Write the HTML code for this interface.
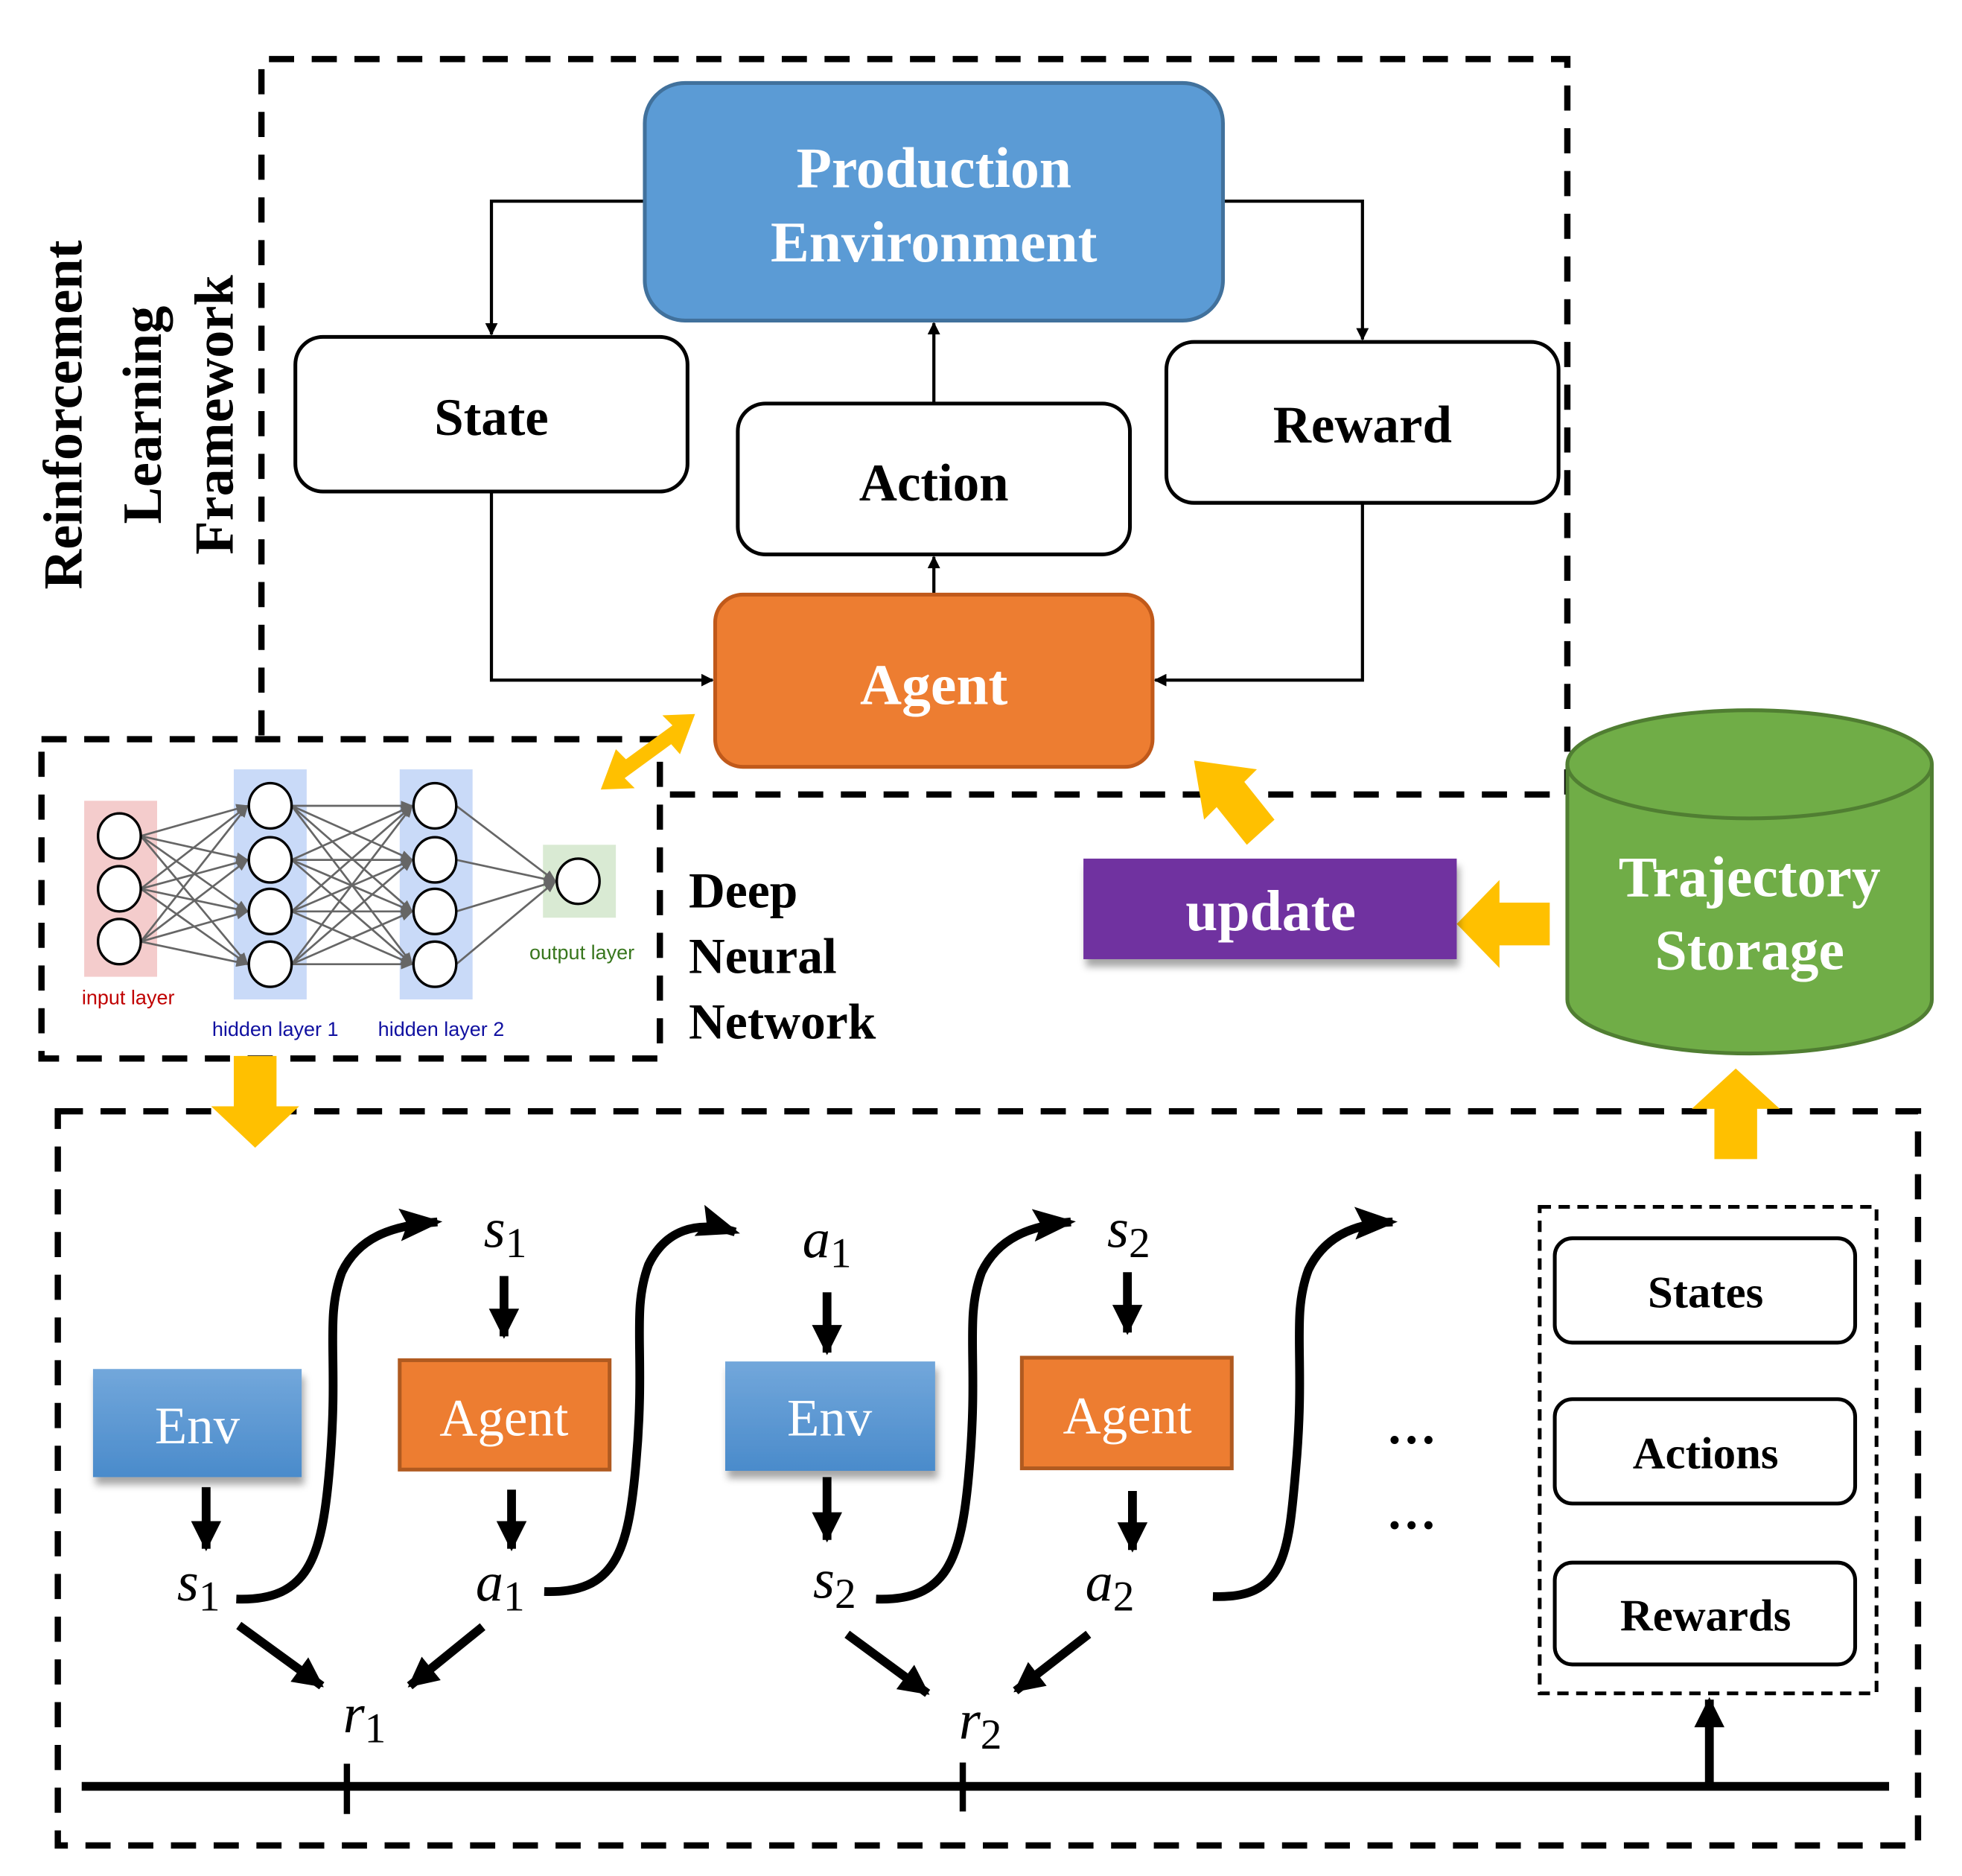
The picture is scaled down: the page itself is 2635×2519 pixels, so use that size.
<!DOCTYPE html>
<html><head><meta charset="utf-8"><style>html,body{margin:0;padding:0;background:#fff}svg{display:block}</style></head>
<body>
<svg width="2635" height="2519" viewBox="0 0 1561 1492.3" preserveAspectRatio="none" xmlns="http://www.w3.org/2000/svg" font-family="Liberation Serif, serif">
<defs>
<marker id="thin" markerWidth="10" markerHeight="10" refX="9" refY="5" orient="auto" markerUnits="userSpaceOnUse" viewBox="0 0 10 10"><path d="M0,0 L10,5 L0,10 z" fill="#000"/></marker>
<marker id="big" markerWidth="34" markerHeight="26" refX="30" refY="13" orient="auto" markerUnits="userSpaceOnUse" viewBox="0 0 34 26"><path d="M0,0 L34,13 L0,26 L6,13 z" fill="#000"/></marker>
<marker id="dn" markerWidth="24" markerHeight="26" refX="22" refY="12" orient="auto" markerUnits="userSpaceOnUse" viewBox="0 0 24 24"><path d="M0,0 L24,12 L0,24 z" fill="#000"/></marker>
<marker id="nn" markerWidth="10" markerHeight="10" refX="9" refY="5" orient="auto" markerUnits="userSpaceOnUse" viewBox="0 0 10 10"><path d="M0,1 L10,5 L0,9 z" fill="#666"/></marker>
<linearGradient id="envg" x1="0" y1="0" x2="0" y2="1"><stop offset="0" stop-color="#72A7DB"/><stop offset="1" stop-color="#4A8BCB"/></linearGradient>
<filter id="sh" x="-10%" y="-10%" width="130%" height="140%"><feDropShadow dx="2" dy="6" stdDeviation="3" flood-color="#000" flood-opacity="0.35"/></filter>
</defs>

<!-- dashed frames -->
<g fill="none" stroke="#000" stroke-width="5" stroke-dasharray="20 14">
<path d="M208,585 L208,47 L1247,47 L1247,632 L525,632"/>
<path d="M33,588 L525,588 L525,842 L33,842 Z"/>
<path d="M46,884 L1526,884 L1526,1468 L46,1468 Z"/>
</g>
<rect x="1225" y="960" width="268" height="387" fill="none" stroke="#000" stroke-width="3" stroke-dasharray="9 6"/>

<!-- RL vertical text -->
<g font-weight="bold" font-size="44" text-anchor="middle">
<text transform="translate(65,330) rotate(-90)">Reinforcement</text>
<text transform="translate(128,330) rotate(-90)">Learning</text>
<text transform="translate(185,330) rotate(-90)">Framework</text>
</g>

<!-- connectors top -->
<g fill="none" stroke="#000" stroke-width="2.5">
<path d="M525,160 L391,160 L391,266" marker-end="url(#thin)"/>
<path d="M973,160 L1084,160 L1084,270" marker-end="url(#thin)"/>
<path d="M743,321 L743,257" marker-end="url(#thin)"/>
<path d="M743,473 L743,443" marker-end="url(#thin)"/>
<path d="M391,391 L391,541 L567,541" marker-end="url(#thin)"/>
<path d="M1084,400 L1084,541 L919,541" marker-end="url(#thin)"/>
</g>

<rect x="513" y="66" width="460" height="189" rx="32" fill="#5B9BD5" stroke="#41719C" stroke-width="3"/>
<g fill="#fff" font-weight="bold" font-size="46" text-anchor="middle">
<text x="743" y="149">Production</text>
<text x="743" y="208">Environment</text>
</g>
<g fill="#fff" stroke="#000" stroke-width="3">
<rect x="235" y="268" width="312" height="123" rx="22"/>
<rect x="587" y="321" width="312" height="120" rx="22"/>
<rect x="928" y="272" width="312" height="128" rx="22"/>
</g>
<g font-weight="bold" font-size="42" text-anchor="middle">
<text x="391" y="346">State</text>
<text x="743" y="398">Action</text>
<text x="1084" y="352">Reward</text>
</g>
<rect x="569" y="473" width="348" height="137" rx="22" fill="#ED7D31" stroke="#C0591A" stroke-width="3"/>
<text x="743" y="560" fill="#fff" font-weight="bold" font-size="46" text-anchor="middle">Agent</text>

<!-- yellow arrows -->
<g fill="#FFC000">
<polygon points="478,628 490,596 498,604 535,577 527,569 553,568 541,600 534,592 497,619 505,627"/>
<polygon points="950,605 1000,612 990,622 1014,652 992,672 968,642 958,652"/>
<polygon points="1159,735 1193,700 1193,718 1233,718 1233,752 1193,752 1193,770"/>
<polygon points="1381,850 1416,882 1398,882 1398,922 1364,922 1364,882 1346,882"/>
<polygon points="203,913 168,880 186,880 186,840 220,840 220,880 238,880"/>
</g>

<!-- update -->
<rect x="862" y="683" width="297" height="80" fill="#7030A0" filter="url(#sh)"/>
<text x="1011" y="740" fill="#fff" font-weight="bold" font-size="46" text-anchor="middle">update</text>

<!-- cylinder -->
<path d="M1247,608 L1247,795 A145,43 0 0 0 1537,795 L1537,608 A145,43 0 0 0 1247,608 Z" fill="#70AD47" stroke="#507E32" stroke-width="3"/>
<path d="M1247,608 A145,43 0 0 0 1537,608" fill="none" stroke="#507E32" stroke-width="3"/>
<g fill="#fff" font-weight="bold" font-size="46" text-anchor="middle">
<text x="1392" y="713">Trajectory</text>
<text x="1392" y="771">Storage</text>
</g>

<!-- DNN text -->
<g font-weight="bold" font-size="40">
<text x="548" y="722">Deep</text>
<text x="548" y="774">Neural</text>
<text x="548" y="826">Network</text>
</g>

<!-- NN image -->
<rect x="67" y="637" width="58" height="140" fill="#F4CCCC"/>
<rect x="186" y="612" width="58" height="183" fill="#C9DAF8"/>
<rect x="318" y="612" width="58" height="183" fill="#C9DAF8"/>
<rect x="432" y="672" width="58" height="58" fill="#D9EAD3"/>
<g stroke="#666" stroke-width="1.6" marker-end="url(#nn)">
<line x1="112" y1="665" x2="197" y2="641"/><line x1="112" y1="665" x2="197" y2="684"/><line x1="112" y1="665" x2="197" y2="725"/><line x1="112" y1="665" x2="197" y2="767"/>
<line x1="112" y1="707" x2="197" y2="641"/><line x1="112" y1="707" x2="197" y2="684"/><line x1="112" y1="707" x2="197" y2="725"/><line x1="112" y1="707" x2="197" y2="767"/>
<line x1="112" y1="749" x2="197" y2="641"/><line x1="112" y1="749" x2="197" y2="684"/><line x1="112" y1="749" x2="197" y2="725"/><line x1="112" y1="749" x2="197" y2="767"/>
<line x1="232" y1="641" x2="328" y2="641"/><line x1="232" y1="641" x2="328" y2="684"/><line x1="232" y1="641" x2="328" y2="725"/><line x1="232" y1="641" x2="328" y2="767"/>
<line x1="232" y1="684" x2="328" y2="641"/><line x1="232" y1="684" x2="328" y2="684"/><line x1="232" y1="684" x2="328" y2="725"/><line x1="232" y1="684" x2="328" y2="767"/>
<line x1="232" y1="725" x2="328" y2="641"/><line x1="232" y1="725" x2="328" y2="684"/><line x1="232" y1="725" x2="328" y2="725"/><line x1="232" y1="725" x2="328" y2="767"/>
<line x1="232" y1="767" x2="328" y2="641"/><line x1="232" y1="767" x2="328" y2="684"/><line x1="232" y1="767" x2="328" y2="725"/><line x1="232" y1="767" x2="328" y2="767"/>
<line x1="363" y1="641" x2="442" y2="701"/><line x1="363" y1="684" x2="442" y2="701"/><line x1="363" y1="725" x2="442" y2="701"/><line x1="363" y1="767" x2="442" y2="701"/>
</g>
<g fill="#fff" stroke="#000" stroke-width="2">
<ellipse cx="95" cy="665" rx="17" ry="18"/><ellipse cx="95" cy="707" rx="17" ry="18"/><ellipse cx="95" cy="749" rx="17" ry="18"/>
<ellipse cx="215" cy="641" rx="17" ry="18"/><ellipse cx="215" cy="684" rx="17" ry="18"/><ellipse cx="215" cy="725" rx="17" ry="18"/><ellipse cx="215" cy="767" rx="17" ry="18"/>
<ellipse cx="346" cy="641" rx="17" ry="18"/><ellipse cx="346" cy="684" rx="17" ry="18"/><ellipse cx="346" cy="725" rx="17" ry="18"/><ellipse cx="346" cy="767" rx="17" ry="18"/>
<ellipse cx="460" cy="701" rx="17" ry="18"/>
</g>
<g font-family="Liberation Sans, sans-serif" font-size="16" text-anchor="middle">
<text x="102" y="799" fill="#C00000">input layer</text>
<text x="219" y="824" fill="#1010A0">hidden layer 1</text>
<text x="351" y="824" fill="#1010A0">hidden layer 2</text>
<text x="463" y="763" fill="#38761D">output layer</text>
</g>

<!-- bottom trajectory -->
<rect x="74" y="1089" width="166" height="86" fill="url(#envg)" filter="url(#sh)"/>
<rect x="577" y="1083" width="167" height="87" fill="url(#envg)" filter="url(#sh)"/>
<rect x="318" y="1082" width="167" height="87" fill="#ED7D31" stroke="#B05A20" stroke-width="3"/>
<rect x="813" y="1080" width="167" height="88" fill="#ED7D31" stroke="#B05A20" stroke-width="3"/>
<g fill="#fff" font-size="42" text-anchor="middle">
<text x="157" y="1148">Env</text>
<text x="660" y="1142">Env</text>
<text x="401" y="1142">Agent</text>
<text x="897" y="1140">Agent</text>
</g>

<g stroke="#000" stroke-width="7" fill="none">
<line x1="401" y1="1015" x2="401" y2="1063" marker-end="url(#dn)"/>
<line x1="658" y1="1028" x2="658" y2="1076" marker-end="url(#dn)"/>
<line x1="897" y1="1012" x2="897" y2="1060" marker-end="url(#dn)"/>
<line x1="164" y1="1183" x2="164" y2="1232" marker-end="url(#dn)"/>
<line x1="407" y1="1185" x2="407" y2="1232" marker-end="url(#dn)"/>
<line x1="658" y1="1175" x2="658" y2="1225" marker-end="url(#dn)"/>
<line x1="901" y1="1186" x2="901" y2="1233" marker-end="url(#dn)"/>
<line x1="190" y1="1293" x2="256" y2="1341" marker-end="url(#dn)"/>
<line x1="384" y1="1294" x2="326" y2="1341" marker-end="url(#dn)"/>
<line x1="674" y1="1300" x2="738" y2="1347" marker-end="url(#dn)"/>
<line x1="866" y1="1300" x2="808" y2="1345" marker-end="url(#dn)"/>
<line x1="1360" y1="1421" x2="1360" y2="1352" marker-end="url(#dn)"/>
<path d="M188,1272 C245,1274 256,1240 262,1170 C270,1080 258,1050 272,1012 C285,985 310,975 348,972" marker-end="url(#big)"/>
<path d="M433,1266 C490,1268 500,1234 506,1164 C514,1074 502,1044 516,1006 C529,979 554,970 585,980" marker-end="url(#big)"/>
<path d="M697,1272 C754,1274 765,1240 771,1170 C779,1080 767,1050 781,1012 C794,985 819,975 852,972" marker-end="url(#big)"/>
<path d="M965,1270 C1022,1272 1025,1238 1031,1168 C1039,1078 1027,1048 1041,1010 C1054,983 1079,973 1108,972" marker-end="url(#big)"/>
<line x1="65" y1="1421" x2="1503" y2="1421"/>
<line x1="276" y1="1403" x2="276" y2="1443" stroke-width="5"/>
<line x1="766" y1="1402" x2="766" y2="1441" stroke-width="5"/>
</g>

<g font-size="44" text-anchor="middle">
<text x="402" y="992"><tspan font-style="italic">s</tspan><tspan font-size="34" dy="8">1</tspan></text>
<text x="658" y="1000"><tspan font-style="italic">a</tspan><tspan font-size="34" dy="8">1</tspan></text>
<text x="898" y="992"><tspan font-style="italic">s</tspan><tspan font-size="34" dy="8">2</tspan></text>
<text x="158" y="1273"><tspan font-style="italic">s</tspan><tspan font-size="34" dy="8">1</tspan></text>
<text x="398" y="1273"><tspan font-style="italic">a</tspan><tspan font-size="34" dy="8">1</tspan></text>
<text x="664" y="1271"><tspan font-style="italic">s</tspan><tspan font-size="34" dy="8">2</tspan></text>
<text x="883" y="1273"><tspan font-style="italic">a</tspan><tspan font-size="34" dy="8">2</tspan></text>
<text x="290" y="1378"><tspan font-style="italic">r</tspan><tspan font-size="34" dy="8">1</tspan></text>
<text x="780" y="1383"><tspan font-style="italic">r</tspan><tspan font-size="34" dy="8">2</tspan></text>
</g>
<g font-weight="bold" font-size="40" text-anchor="middle">
<text x="1123" y="1148">…</text>
<text x="1123" y="1216">…</text>
</g>

<g fill="#fff" stroke="#000" stroke-width="3">
<rect x="1237" y="985" width="239" height="83" rx="14"/>
<rect x="1237" y="1113" width="239" height="83" rx="14"/>
<rect x="1237" y="1243" width="239" height="81" rx="14"/>
</g>
<g font-weight="bold" font-size="36" text-anchor="middle">
<text x="1357" y="1040">States</text>
<text x="1357" y="1168">Actions</text>
<text x="1357" y="1297">Rewards</text>
</g>
</svg>
</body></html>
